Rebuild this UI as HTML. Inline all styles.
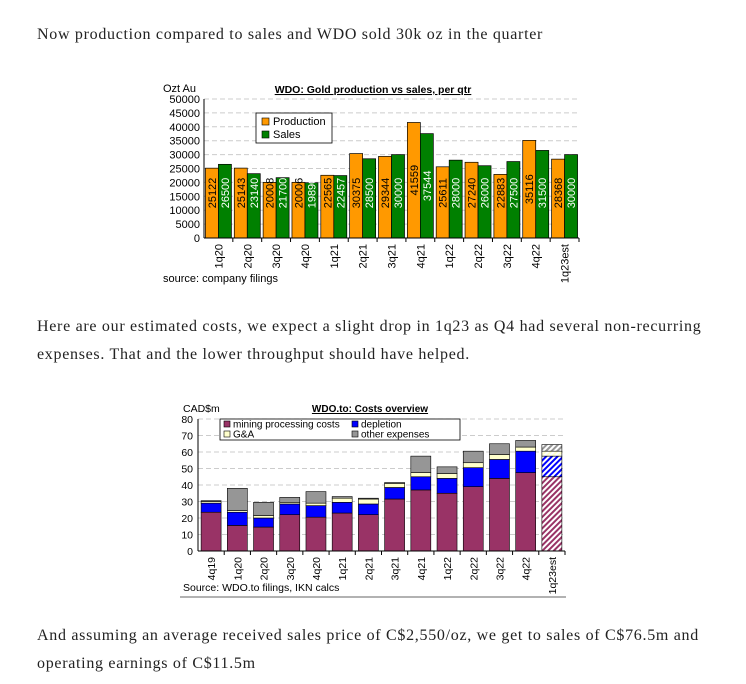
<!DOCTYPE html>
<html><head><meta charset="utf-8">
<style>
body{margin:0;background:#fff;width:746px;height:684px;position:relative;overflow:hidden;font-family:"Liberation Serif",serif;color:#222}
p{position:absolute;left:37px;margin:0;font-size:16px;line-height:28px;letter-spacing:0.7px;width:700px}
svg{position:absolute;left:0;top:0}
svg text{font-family:"Liberation Sans",Arial,sans-serif}
</style></head><body>
<p style="top:21px">Now production compared to sales and WDO sold 30k oz in the quarter</p>
<p style="top:313px">Here are our estimated costs, we expect a slight drop in 1q23 as Q4 had several non-recurring expenses. That and the lower throughput should have helped.</p>
<p style="top:622px">And assuming an average received sales price of C$2,550/oz, we get to sales of C$76.5m and operating earnings of C$11.5m</p>
<svg id="svg" width="746" height="684" xmlns="http://www.w3.org/2000/svg">
<defs>
<pattern id="hR" width="4" height="4" patternUnits="userSpaceOnUse" patternTransform="rotate(45)"><rect width="4" height="4" fill="#fff"/><rect width="2" height="4" fill="#993366"/></pattern>
<pattern id="hB" width="4" height="4" patternUnits="userSpaceOnUse" patternTransform="rotate(45)"><rect width="4" height="4" fill="#fff"/><rect width="2" height="4" fill="#0000ff"/></pattern>
<pattern id="hY" width="4" height="4" patternUnits="userSpaceOnUse" patternTransform="rotate(45)"><rect width="4" height="4" fill="#fff"/><rect width="2" height="4" fill="#ffffcc"/></pattern>
<pattern id="hG" width="4" height="4" patternUnits="userSpaceOnUse" patternTransform="rotate(45)"><rect width="4" height="4" fill="#fff"/><rect width="2" height="4" fill="#969696"/></pattern>
</defs>
</svg>
<script>
const cats1=["1q20","2q20","3q20","4q20","1q21","2q21","3q21","4q21","1q22","2q22","3q22","4q22","1q23est"];
const production=[25122,25143,20008,20006,22565,30375,29344,41559,25611,27240,22883,35116,28368];
const sales=[26500,23140,21700,19890,22457,28500,30000,37544,28000,26000,27500,31500,30000];
const ticks1=[0,5000,10000,15000,20000,25000,30000,35000,40000,45000,50000];

const cats2=["4q19","1q20","2q20","3q20","4q20","1q21","2q21","3q21","4q21","1q22","2q22","3q22","4q22","1q23est"];
const mining=[23.5,15.5,14.5,22,20.5,23,22,31.5,37,35,39,44,47.5,45];
const depletion=[5.5,8,5.5,6.5,7,6.5,6.5,7,8,9,11.5,11.5,13,12.5];
const gna=[1,1,1.5,1,1.5,2.5,3,2.5,2.5,3,3,3,2.5,3];
const other=[0.5,13.5,8,3,7,1,0.5,0.5,10,4,7,6.5,4,4];
const ticks2=[0,10,20,30,40,50,60,70,80];

const svg=document.getElementById('svg');
const NS="http://www.w3.org/2000/svg";
function mk(tag,attrs,parent){const e=document.createElementNS(NS,tag);for(const k in attrs)e.setAttribute(k,attrs[k]);(parent||svg).appendChild(e);return e;}
function txt(s,attrs){const e=mk('text',attrs);e.textContent=s;return e;}

// ---- Chart 1 ----
const c1={x0:204,x1:579,y0:238,y1:99,max:50000};
const y1f=v=>c1.y0-(v/c1.max)*(c1.y0-c1.y1);
const cw1=(c1.x1-c1.x0)/cats1.length;
ticks1.forEach(t=>{
  const y=y1f(t);
  if(t>0){const g=mk('line',{x1:c1.x0,x2:c1.x1,y1:y,y2:y,stroke:'#ccc','stroke-dasharray':'5,3'});
  
  }
  const l=txt(String(t),{x:200,y:y+4,'font-size':11,'text-anchor':'end',fill:'#000'});
  
  
});
cats1.forEach((c,i)=>{
  const cx=c1.x0+cw1*i+cw1/2;
  const bw=13;
  [[production[i],'#ff9900',cx-bw,'#000','production'],[sales[i],'#008000',cx,'#fff','sales']].forEach(([v,col,x,tc,nm])=>{
    const y=y1f(v);
    const r=mk('rect',{x:x,y:y,width:bw,height:c1.y0-y,fill:col,stroke:'#000','stroke-width':0.7});
    
    
    const mid=Math.min((y+c1.y0)/2,193);
    const t=txt(String(v),{x:0,y:0,'font-size':11,fill:tc,'text-anchor':'middle',transform:`translate(${x+bw/2+4},${mid}) rotate(-90)`});
    
    
  });
  const tk=mk('line',{x1:c1.x0+cw1*(i+1),x2:c1.x0+cw1*(i+1),y1:c1.y0,y2:c1.y0+4,stroke:'#000'});
  
  
  const xl=txt(c,{x:0,y:0,'font-size':11,'text-anchor':'end',fill:'#000',transform:`translate(${cx+4},${c1.y0+6}) rotate(-90)`});
  
  
});
mk('line',{x1:c1.x0,x2:c1.x0,y1:c1.y1,y2:c1.y0,stroke:'#000'});
mk('line',{x1:c1.x0,x2:c1.x1,y1:c1.y0,y2:c1.y0,stroke:'#000'});
</script>
<svg width="746" height="684" style="pointer-events:none">
<g font-family="Liberation Sans, sans-serif" fill="#000">
<text x="373" y="93" font-size="10.5" font-weight="bold" text-anchor="middle" text-decoration="underline">WDO: Gold production vs sales, per qtr</text>
<text x="163" y="92" font-size="11">Ozt Au</text>
<text x="163" y="282" font-size="11">source: company filings</text>
<g>
<rect x="256" y="113" width="76" height="30" fill="#fff" stroke="#000" stroke-width="0.8"/>
<rect x="262" y="118" width="7" height="7" fill="#ff9900" stroke="#000" stroke-width="0.6"/>
<text x="273" y="125" font-size="11">Production</text>
<rect x="262" y="131" width="7" height="7" fill="#008000" stroke="#000" stroke-width="0.6"/>
<text x="273" y="138" font-size="11">Sales</text>
</g>
<text x="370" y="412" font-size="10" font-weight="bold" text-anchor="middle" text-decoration="underline">WDO.to: Costs overview</text>
<text x="183" y="412" font-size="10.5">CAD$m</text>
<text x="183" y="591" font-size="10.5">Source: WDO.to filings, IKN calcs</text>
<line x1="180" x2="566" y1="597" y2="597" stroke="#999" stroke-width="1.5"/>
</g>
</svg>
<script>
// ---- Chart 2 ----
const c2={x0:198,x1:565,y0:551,y1:419,max:80};
const y2f=v=>c2.y0-(v/c2.max)*(c2.y0-c2.y1);
const cw2=(c2.x1-c2.x0)/cats2.length;
ticks2.forEach(t=>{
  const y=y2f(t);
  if(t>0){const g=mk('line',{x1:c2.x0,x2:c2.x1,y1:y,y2:y,stroke:'#ccc','stroke-dasharray':'5,3'});
  
  }
  const l=txt(String(t),{x:193,y:y+4,'font-size':10.5,'text-anchor':'end',fill:'#000'});
  
  
});
const series2=[[mining,'#993366','hR','mining'],[depletion,'#0000ff','hB','depletion'],[gna,'#ffffcc','hY','gna'],[other,'#969696','hG','other']];
cats2.forEach((c,i)=>{
  const cx=c2.x0+cw2*i+cw2/2;const bw=20;
  const est=i===cats2.length-1;
  let acc=0;
  series2.forEach(([arr,col,pat,nm])=>{
    const yb=y2f(acc);acc+=arr[i];const yt=y2f(acc);
    const r=mk('rect',{x:cx-bw/2,y:yt,width:bw,height:yb-yt,fill:est?`url(#${pat})`:col,stroke:'#000','stroke-width':0.6});
    
    
  });
  const tk=mk('line',{x1:c2.x0+cw2*(i+1),x2:c2.x0+cw2*(i+1),y1:c2.y0,y2:c2.y0+4,stroke:'#000'});
  
  
  const xl=txt(c,{x:0,y:0,'font-size':10.5,'text-anchor':'end',fill:'#000',transform:`translate(${cx+4},${c2.y0+6}) rotate(-90)`});
  
  
});
mk('line',{x1:c2.x0,x2:c2.x0,y1:c2.y1,y2:c2.y0,stroke:'#000'});
mk('line',{x1:c2.x0,x2:c2.x1,y1:c2.y0,y2:c2.y0,stroke:'#000'});
// legend 2
const lg=mk('g',{});


mk('rect',{x:220,y:419,width:240,height:21,fill:'#fff',stroke:'#000','stroke-width':0.8},lg);
[['mining processing costs','#993366',224,424],['depletion','#0000ff',352,424],['G&A','#ffffcc',224,434],['other expenses','#969696',352,434]].forEach(([s,col,x,y])=>{
  mk('rect',{x:x,y:y-3,width:6,height:6,fill:col,stroke:'#000','stroke-width':0.6},lg);
  const t=mk('text',{x:x+9,y:y+3.5,'font-size':10,fill:'#000'},lg);t.textContent=s;
});
</script>
</body></html>
